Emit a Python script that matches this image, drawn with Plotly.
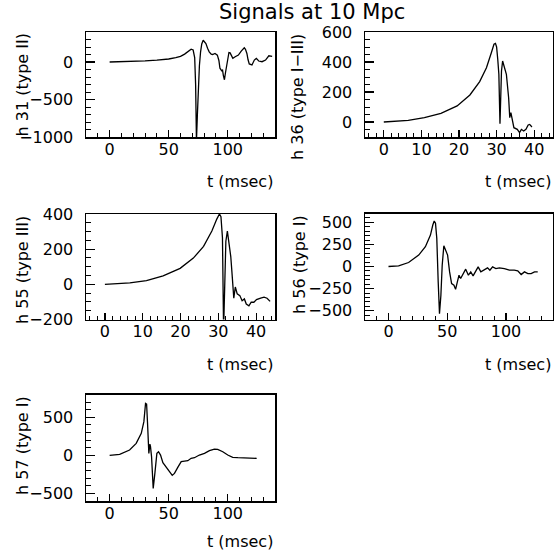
import plotly.graph_objects as go

# ---------------- data ----------------
t31 = [0, 10, 20, 30, 40, 45, 50, 56, 60, 63.5, 66, 69, 70.7, 72, 72.8, 73.5, 74.3, 75, 76, 77, 78, 79.2,
       80.5, 81.5, 83, 84.3, 86, 87.2, 89.2, 91.2, 92.5, 93.4, 94.9, 95.6, 96.3, 97.2, 98, 99, 100, 101,
       102, 103, 104.3, 106.3, 109, 111.4, 114, 115, 116.2, 117.2, 118.2, 120.5, 122.5, 124.2, 126.2,
       129, 132, 134.8, 136.8, 137.6]
h31 = [0, 3, 8, 15, 25, 31, 40, 57, 75, 105, 130, 170, 160, 60, -300, -1050, -700, -390, -50, 136, 240, 290,
       270, 245, 180, 136, 105, 100, 114, 92, 20, -83, -118, -110, -180, -237, -150, -39, 60, 127,
       122, 90, 48, 70, 92, 145, 189, 170, 114, 30, -26, -39, 26, 48, 13,
       4, 26, 83, 70, 75]

t36 = [0, 3, 6.5, 10.8, 15.2, 19.5, 22.9, 25.5, 27.3, 28.6, 29.3, 29.7, 30, 30.3, 30.6, 30.9, 31.1, 31.3,
       31.6, 32, 32.4, 32.6, 33.2, 33.5, 33.8, 34.2, 34.6, 35.5, 36.1, 36.6, 37.2, 37.8, 38.4, 38.8, 39.4]
h36 = [0, 4, 11, 29, 58, 107, 180, 269, 362, 462, 518, 524, 500, 420, 318, -11, 200, 340,
       407, 373, 329, 318, 162, 29, 62, 7, -38, -49, -71, -49, -60, -49, -20, -16, -33]

t55 = [0, 3, 6.6, 11, 15.4, 19.9, 23.4, 26.1, 28.3, 29.6, 30.3, 30.7, 31.1, 31.4, 31.7, 32, 32.4, 32.8,
       33.3, 33.6, 34.1, 34.5, 35, 35.7, 36.3, 36.9, 37.4, 38.1, 38.7, 39.4, 40.1, 41.2, 42.1, 42.9, 43.7]
h55 = [0, 3, 8, 21, 48, 91, 149, 216, 303, 371, 400, 384, 265, -260, 71, 245, 303, 245,
       158, 71, -79, -15, -54, -64, -93, -83, -112, -122, -102, -102, -87, -79, -73, -79, -97]

t56 = [0, 8.6, 17.1, 25.7, 31.4, 35.7, 37.7, 38.9, 40, 41.1, 42.3, 43.4, 44.6, 45.7, 47.1, 48.6, 50.3,
       52, 53.7, 55.7, 57.1, 58.6, 60, 61.4, 63.4, 65.7, 68, 70, 72, 74.3, 76.3, 78.6, 81.4, 84.3, 86.3,
       88.6, 91.4, 94.3, 98.6, 102.9, 107, 110, 112.9, 115.7, 118.6, 121.4, 124.3, 127]
h56 = [0, 8, 45, 129, 224, 356, 470, 515, 489, 318, -174, -534, -326, 15, 235, 186, 129,
       -61, -193, -212, -258, -174, -99, -136, -80, -30, -99, -61, -106, -42, -4, -61, -42, -15, -42,
       -4, -23, -15, -23, -42, -42, -49, -91, -61, -80, -80, -61, -61]

t57 = [0, 8.5, 16.9, 22.5, 26.8, 29, 30.4, 31.3, 32.1, 33.2, 34.1, 34.6, 35.5, 36.9, 38.3, 40, 41.4, 43.1,
       45.1, 47.9, 50.7, 53, 54.9, 57.7, 60.6, 63.4, 66.2, 69, 71.8, 76, 80.3, 84.5, 88.7, 91.5, 95.8,
       100, 104.2, 108.5, 114, 119.7, 124.5]
h57 = [0, 13, 70, 158, 289, 443, 684, 675, 421, 26, 149, 114, -18, -434, -237, 26, 48, 4,
       -96, -149, -215, -263, -237, -158, -83, -75, -70, -39, -31, 4, 26, 61, 83, 79, 48,
       4, -26, -31, -31, -35, -39]

ytitles = ["h 31 (type II)", "h 36 (type I\u2212III)", "h 55 (type III)", "h 56 (type I)", "h 57 (type I)"]
xtitle = "t (msec)"
main_title = "Signals at 10 Mpc"

series = [(t31, h31), (t36, h36), (t55, h55), (t56, h56), (t57, h57)]

# ---------------- layout in pixels (page coordinates) ----------------
W, H = 554, 551


def fx(px):
    return px / W


def fy(py):
    return 1 - py / H


# (left, right, top, bottom) frame pixels
frames = [(86, 275, 32, 137), (365, 553, 32, 137),
          (86, 275, 214, 319.5), (365, 553, 213.5, 319.5),
          (86, 275, 394.5, 501)]
xranges = [[-20, 140], [-5, 45], [-5, 45], [-20, 140], [-20, 140]]
yranges = [[-1000, 400], [-100, 600], [-200, 400], [-600, 600], [-600, 800]]
xdt = [(50, 10), (10, 2), (10, 2), (50, 10), (50, 10)]
ydt = [(500, 100), (200, 50), (200, 50), (250, 50), (500, 100)]
ytitle_x = [22, 298, 22, 299, 22]
xtitle_y = [182, 182, 364, 364, 541]

FONT = "DejaVu Sans"
fig = go.Figure()
layout = dict(template="none", width=W, height=H, autosize=False,
              margin=dict(l=0, r=0, t=0, b=0, pad=0, autoexpand=False),
              paper_bgcolor="white", plot_bgcolor="white", showlegend=False,
              font=dict(family=FONT, color="black"))
annotations = []
for i, ((tx, hy), (l, r, t, b)) in enumerate(zip(series, frames)):
    n = "" if i == 0 else str(i + 1)
    fig.add_trace(go.Scatter(x=tx, y=hy, mode="lines", line=dict(color="black", width=1.3),
                             xaxis="x" + n, yaxis="y" + n, hoverinfo="skip"))
    layout["xaxis" + n] = dict(
        domain=[fx(l), fx(r)], anchor="y" + n, range=xranges[i], automargin=False,
        showline=True, linecolor="black", linewidth=1.5, mirror=True,
        showgrid=False, zeroline=False,
        ticks="inside", ticklen=7, tickwidth=1.2, tickcolor="black",
        tick0=0, dtick=xdt[i][0],
        minor=dict(ticks="inside", ticklen=4, tickwidth=1, tickcolor="black", dtick=xdt[i][1], tick0=0, showgrid=False),
        tickfont=dict(family=FONT, size=16, color="black"), ticklabelstandoff=-3)
    layout["yaxis" + n] = dict(
        domain=[fy(b), fy(t)], anchor="x" + n, range=yranges[i], automargin=False,
        showline=True, linecolor="black", linewidth=1.5, mirror=True,
        showgrid=False, zeroline=False,
        ticks="inside", ticklen=9, tickwidth=1.2, tickcolor="black",
        tick0=0, dtick=ydt[i][0],
        minor=dict(ticks="inside", ticklen=5, tickwidth=1, tickcolor="black", dtick=ydt[i][1], tick0=0, showgrid=False),
        tickfont=dict(family=FONT, size=16, color="black"), ticklabelstandoff=8)
    annotations.append(dict(text=ytitles[i], textangle=-90, xref="paper", yref="paper",
                            x=fx(ytitle_x[i]), y=fy(t), xanchor="center", yanchor="top",
                            showarrow=False, font=dict(family=FONT, size=16, color="black")))
    annotations.append(dict(text=xtitle, xref="paper", yref="paper",
                            x=fx(r), y=fy(xtitle_y[i]), xanchor="right", yanchor="middle",
                            showarrow=False, font=dict(family=FONT, size=16, color="black")))

annotations.append(dict(text=main_title, xref="paper", yref="paper", x=fx(312), y=fy(12),
                        xanchor="center", yanchor="middle", showarrow=False,
                        font=dict(family=FONT, size=21, color="black")))
layout["annotations"] = annotations
fig.update_layout(**layout)
fig.write_html("out.html", config={"displayModeBar": False, "staticPlot": True},
               post_script="document.body.style.margin='0px';document.body.style.padding='0px';")
